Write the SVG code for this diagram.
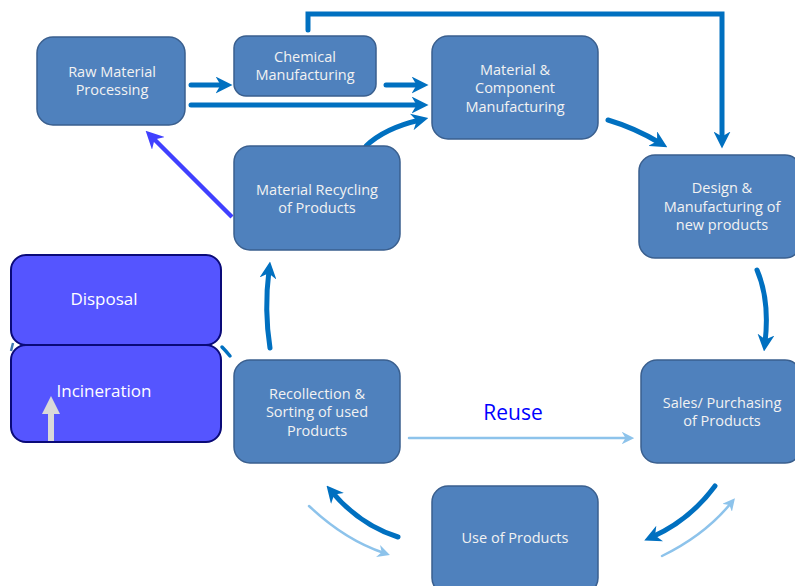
<svg xmlns="http://www.w3.org/2000/svg" width="795" height="586" viewBox="0 0 795 586">
<style>
.node{fill:#4F81BD;stroke:#3A5F8E;stroke-width:1.5}
.red{fill:#5555FF;stroke:#0A0A78;stroke-width:2}
.t{font-family:"Open Sans","Liberation Sans",sans-serif;font-size:14.5px;fill:#F2F2F2;text-anchor:middle}
.tb{font-family:"Open Sans","Liberation Sans",sans-serif;font-size:17px;fill:#FFFFFF;text-anchor:middle}
.c{fill:none;stroke:#0070C0;stroke-width:5;stroke-linecap:round}
.cl{fill:none;stroke:#8DC3EB;stroke-width:2.5;stroke-linecap:round}
</style>
<defs>
<marker id="ah" viewBox="0 0 10 10" refX="5" refY="5" markerWidth="3.4" markerHeight="3.4" orient="auto" markerUnits="strokeWidth"><path d="M0,0 L10,5 L0,10 L3,5 Z" fill="#0070C0"/></marker>
<marker id="al" viewBox="0 0 10 10" refX="5" refY="5" markerWidth="5" markerHeight="5" orient="auto" markerUnits="strokeWidth"><path d="M0,0 L10,5 L0,10 L3,5 Z" fill="#8DC3EB"/></marker>
<marker id="av" viewBox="0 0 10 10" refX="5" refY="5" markerWidth="4" markerHeight="4" orient="auto" markerUnits="strokeWidth"><path d="M0,0 L10,5 L0,10 L3,5 Z" fill="#4040FF"/></marker>
<marker id="ag" viewBox="0 0 10 10" refX="5" refY="5" markerWidth="3" markerHeight="3" orient="auto" markerUnits="strokeWidth"><path d="M0,0 L10,5 L0,10 Z" fill="#D9D9D9"/></marker>
</defs>
<g id="connectors">
<path class="c" d="M308,30 V14 H722 V140" marker-end="url(#ah)"/>
<path class="c" d="M191,85 H224" marker-end="url(#ah)"/>
<path class="c" d="M191,105 H420" marker-end="url(#ah)"/>
<path class="c" d="M386,85 H420" marker-end="url(#ah)"/>
<path class="c" d="M366,146 Q385,128 420,120" marker-end="url(#ah)"/>
<path class="c" d="M608,120 Q635,128 660,143" marker-end="url(#ah)"/>
<path class="c" d="M757,270 Q770,300 765,343" marker-end="url(#ah)"/>
<path class="c" d="M715,486 Q690,520 652,537" marker-end="url(#ah)"/>
<path class="c" d="M398,537 Q360,525 332,492" marker-end="url(#ah)"/>
<path class="c" d="M270,348 Q264,310 269,270" marker-end="url(#ah)"/>
<path d="M222,347 Q226,351 230,356" fill="none" stroke="#0070C0" stroke-width="3.5" stroke-linecap="round"/>
<path d="M13,343 L11,351" fill="none" stroke="#3E78B0" stroke-width="2.5"/>
<path class="cl" d="M309,506 Q345,540 384,553" marker-end="url(#al)"/>
<path class="cl" d="M662,556 Q705,535 731,503" marker-end="url(#al)"/>
<path class="cl" d="M409,438 H628" marker-end="url(#al)"/>
<path d="M232,217 L152,137" fill="none" stroke="#4040FF" stroke-width="4.5" marker-end="url(#av)"/>
</g>
<g id="raw"><rect class="node" x="37" y="37" width="148" height="88" rx="16"/><text class="t" x="112" y="77">Raw Material</text><text class="t" x="112" y="95">Processing</text></g>
<g id="chemical"><rect class="node" x="234" y="36" width="142" height="60" rx="12"/><text class="t" x="305" y="62">Chemical</text><text class="t" x="305" y="80">Manufacturing</text></g>
<g id="material"><rect class="node" x="432" y="36" width="166" height="103" rx="16"/><text class="t" x="515" y="75">Material &amp;</text><text class="t" x="515" y="93">Component</text><text class="t" x="515" y="112">Manufacturing</text></g>
<g id="design"><rect class="node" x="639" y="155" width="162" height="103" rx="16"/><text class="t" x="722" y="193">Design &amp;</text><text class="t" x="722" y="212">Manufacturing of</text><text class="t" x="722" y="230">new products</text></g>
<g id="recycling"><rect class="node" x="234" y="146" width="166" height="104" rx="16"/><text class="t" x="317" y="195">Material Recycling</text><text class="t" x="317" y="213">of Products</text></g>
<g id="recollection"><rect class="node" x="234" y="360" width="166" height="103" rx="16"/><text class="t" x="317" y="399">Recollection &amp;</text><text class="t" x="317" y="417">Sorting of used</text><text class="t" x="317" y="436">Products</text></g>
<g id="sales"><rect class="node" x="641" y="360" width="160" height="103" rx="16"/><text class="t" x="722" y="408">Sales/ Purchasing</text><text class="t" x="722" y="426">of Products</text></g>
<g id="use"><rect class="node" x="432" y="486" width="166" height="108" rx="16"/><text class="t" x="515" y="543">Use of Products</text></g>
<g id="disposal"><rect class="red" x="11" y="255" width="210" height="90" rx="15"/><text class="tb" x="104" y="305">Disposal</text></g>
<g id="incineration"><rect class="red" x="11" y="345" width="210" height="97" rx="15"/><text class="tb" x="104" y="397">Incineration</text></g>
<g id="gray-arrow"><path d="M51,441 V405" stroke="#D9D9D9" stroke-width="6" fill="none" marker-end="url(#ag)"/></g>
<g id="reuse"><text x="513" y="420" font-family="'Open Sans','Liberation Sans',sans-serif" font-size="21" fill="#0000FF" text-anchor="middle">Reuse</text></g>
</svg>
